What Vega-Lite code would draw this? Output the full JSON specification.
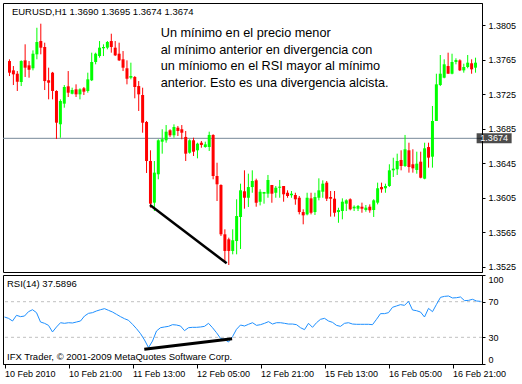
{
"$schema": "https://vega.github.io/schema/vega-lite/v6.json",
"padding": {"left": 2, "top": 2, "right": 0, "bottom": 0},
"background": "white",
"bounds": "flush",
"spacing": 3,
"config": {
  "font": "Liberation Sans",
  "view": {"stroke": "black", "strokeWidth": 1},
  "axis": {"grid": false, "domainColor": "black", "tickColor": "black", "labelColor": "black", "labelFont": "Liberation Sans", "labelFontSize": 9, "domainWidth": 1, "tickWidth": 1, "labelOverlap": false}
},
"datasets": {
"bars": [
{"i":0,"o":1.37636,"h":1.37656,"l":1.37462,"c":1.37501,"r":52.8},
{"i":1,"o":1.37528,"h":1.37578,"l":1.37358,"c":1.37482,"r":51.3},
{"i":2,"o":1.37489,"h":1.37520,"l":1.37289,"c":1.37396,"r":48.3},
{"i":3,"o":1.37393,"h":1.37644,"l":1.37346,"c":1.37636,"r":54.7},
{"i":4,"o":1.37644,"h":1.37830,"l":1.37451,"c":1.37559,"r":53.2},
{"i":5,"o":1.37586,"h":1.37636,"l":1.37443,"c":1.37535,"r":53.9},
{"i":6,"o":1.37552,"h":1.37760,"l":1.37528,"c":1.37721,"r":58.8},
{"i":7,"o":1.37714,"h":1.38022,"l":1.37656,"c":1.37857,"r":61.0},
{"i":8,"o":1.37868,"h":1.38069,"l":1.37714,"c":1.37791,"r":57.7},
{"i":9,"o":1.37799,"h":1.37849,"l":1.37300,"c":1.37404,"r":47.2},
{"i":10,"o":1.37413,"h":1.37559,"l":1.37192,"c":1.37385,"r":45.7},
{"i":11,"o":1.37501,"h":1.37510,"l":1.37192,"c":1.37289,"r":43.4},
{"i":12,"o":1.37289,"h":1.37297,"l":1.36732,"c":1.36921,"r":36.0},
{"i":13,"o":1.36903,"h":1.37192,"l":1.36747,"c":1.37173,"r":41.6},
{"i":14,"o":1.37142,"h":1.37358,"l":1.37095,"c":1.37335,"r":46.4},
{"i":15,"o":1.37343,"h":1.37520,"l":1.37219,"c":1.37269,"r":45.7},
{"i":16,"o":1.37257,"h":1.37327,"l":1.37250,"c":1.37300,"r":46.4},
{"i":17,"o":1.37308,"h":1.37366,"l":1.37219,"c":1.37250,"r":46.1},
{"i":18,"o":1.37250,"h":1.37320,"l":1.37192,"c":1.37308,"r":47.2},
{"i":19,"o":1.37320,"h":1.37335,"l":1.37242,"c":1.37281,"r":48.3},
{"i":20,"o":1.37289,"h":1.37501,"l":1.37269,"c":1.37424,"r":53.9},
{"i":21,"o":1.37413,"h":1.37733,"l":1.37404,"c":1.37625,"r":56.9},
{"i":22,"o":1.37625,"h":1.37733,"l":1.37598,"c":1.37721,"r":57.7},
{"i":23,"o":1.37694,"h":1.37868,"l":1.37675,"c":1.37791,"r":59.6},
{"i":24,"o":1.37784,"h":1.37830,"l":1.37694,"c":1.37799,"r":61.0},
{"i":25,"o":1.37791,"h":1.37868,"l":1.37772,"c":1.37857,"r":62.2},
{"i":26,"o":1.37868,"h":1.37953,"l":1.37733,"c":1.37799,"r":60.3},
{"i":27,"o":1.37791,"h":1.37868,"l":1.37694,"c":1.37702,"r":58.4},
{"i":28,"o":1.37721,"h":1.37849,"l":1.37636,"c":1.37644,"r":55.8},
{"i":29,"o":1.37656,"h":1.37752,"l":1.37520,"c":1.37559,"r":53.2},
{"i":30,"o":1.37552,"h":1.37644,"l":1.37366,"c":1.37431,"r":50.9},
{"i":31,"o":1.37443,"h":1.37617,"l":1.37424,"c":1.37462,"r":49.1},
{"i":32,"o":1.37451,"h":1.37462,"l":1.37204,"c":1.37335,"r":44.6},
{"i":33,"o":1.37346,"h":1.37404,"l":1.37057,"c":1.37250,"r":39.7},
{"i":34,"o":1.37242,"h":1.37327,"l":1.36805,"c":1.36921,"r":34.1},
{"i":35,"o":1.36929,"h":1.36941,"l":1.36338,"c":1.36477,"r":27.0},
{"i":36,"o":1.36477,"h":1.36601,"l":1.35936,"c":1.35982,"r":18.4},
{"i":37,"o":1.35994,"h":1.36477,"l":1.35897,"c":1.36342,"r":25.8},
{"i":38,"o":1.36323,"h":1.36729,"l":1.36265,"c":1.36717,"r":37.1},
{"i":39,"o":1.36701,"h":1.36845,"l":1.36562,"c":1.36729,"r":40.8},
{"i":40,"o":1.36717,"h":1.36894,"l":1.36689,"c":1.36817,"r":41.6},
{"i":41,"o":1.36833,"h":1.36845,"l":1.36756,"c":1.36775,"r":42.3},
{"i":42,"o":1.36775,"h":1.36902,"l":1.36747,"c":1.36871,"r":44.2},
{"i":43,"o":1.36863,"h":1.36883,"l":1.36767,"c":1.36825,"r":43.8},
{"i":44,"o":1.36845,"h":1.36894,"l":1.36729,"c":1.36805,"r":42.7},
{"i":45,"o":1.36756,"h":1.36825,"l":1.36477,"c":1.36562,"r":37.5},
{"i":46,"o":1.36573,"h":1.36729,"l":1.36562,"c":1.36717,"r":40.8},
{"i":47,"o":1.36717,"h":1.36747,"l":1.36535,"c":1.36585,"r":41.2},
{"i":48,"o":1.36601,"h":1.36689,"l":1.36508,"c":1.36678,"r":41.2},
{"i":49,"o":1.36689,"h":1.36709,"l":1.36631,"c":1.36663,"r":41.6},
{"i":50,"o":1.36639,"h":1.36701,"l":1.36631,"c":1.36670,"r":42.3},
{"i":51,"o":1.36639,"h":1.36817,"l":1.36593,"c":1.36779,"r":45.7},
{"i":52,"o":1.36779,"h":1.36787,"l":1.36265,"c":1.36303,"r":40.8},
{"i":53,"o":1.36303,"h":1.36457,"l":1.36013,"c":1.36207,"r":35.2},
{"i":54,"o":1.36199,"h":1.36207,"l":1.35607,"c":1.35627,"r":28.8},
{"i":55,"o":1.35627,"h":1.35685,"l":1.35294,"c":1.35434,"r":27.7},
{"i":56,"o":1.35569,"h":1.35588,"l":1.35271,"c":1.35434,"r":24.7},
{"i":57,"o":1.35434,"h":1.35685,"l":1.35395,"c":1.35558,"r":30.7},
{"i":58,"o":1.35549,"h":1.36033,"l":1.35395,"c":1.35839,"r":39.0},
{"i":59,"o":1.35828,"h":1.36214,"l":1.35457,"c":1.36137,"r":43.8},
{"i":60,"o":1.36126,"h":1.36369,"l":1.35924,"c":1.36051,"r":42.7},
{"i":61,"o":1.36051,"h":1.36330,"l":1.35944,"c":1.36175,"r":44.6},
{"i":62,"o":1.36175,"h":1.36369,"l":1.36109,"c":1.36245,"r":46.4},
{"i":63,"o":1.36253,"h":1.36272,"l":1.35947,"c":1.35993,"r":43.4},
{"i":64,"o":1.36005,"h":1.36149,"l":1.35962,"c":1.36121,"r":44.2},
{"i":65,"o":1.36098,"h":1.36118,"l":1.35982,"c":1.36118,"r":45.7},
{"i":66,"o":1.36098,"h":1.36315,"l":1.36051,"c":1.36257,"r":47.6},
{"i":67,"o":1.36199,"h":1.36199,"l":1.35993,"c":1.36098,"r":44.9},
{"i":68,"o":1.36109,"h":1.36187,"l":1.36051,"c":1.36167,"r":46.4},
{"i":69,"o":1.36167,"h":1.36257,"l":1.36051,"c":1.36179,"r":46.4},
{"i":70,"o":1.36187,"h":1.36187,"l":1.36005,"c":1.36091,"r":45.7},
{"i":71,"o":1.36109,"h":1.36137,"l":1.36051,"c":1.36071,"r":44.9},
{"i":72,"o":1.36080,"h":1.36129,"l":1.36051,"c":1.36098,"r":44.9},
{"i":73,"o":1.36083,"h":1.36109,"l":1.35970,"c":1.36033,"r":44.2},
{"i":74,"o":1.36051,"h":1.36071,"l":1.35858,"c":1.35885,"r":40.8},
{"i":75,"o":1.35885,"h":1.35917,"l":1.35743,"c":1.35847,"r":38.6},
{"i":76,"o":1.35858,"h":1.36109,"l":1.35847,"c":1.36051,"r":45.7},
{"i":77,"o":1.36044,"h":1.36109,"l":1.35858,"c":1.35877,"r":41.2},
{"i":78,"o":1.35885,"h":1.36109,"l":1.35851,"c":1.36059,"r":46.4},
{"i":79,"o":1.36051,"h":1.36276,"l":1.36021,"c":1.36137,"r":50.2},
{"i":80,"o":1.36121,"h":1.36253,"l":1.36051,"c":1.36214,"r":51.3},
{"i":81,"o":1.36226,"h":1.36245,"l":1.36013,"c":1.36040,"r":48.3},
{"i":82,"o":1.36059,"h":1.36129,"l":1.35832,"c":1.36040,"r":46.8},
{"i":83,"o":1.36040,"h":1.36129,"l":1.35832,"c":1.35877,"r":43.4},
{"i":84,"o":1.35885,"h":1.35935,"l":1.35761,"c":1.35908,"r":42.3},
{"i":85,"o":1.35897,"h":1.36044,"l":1.35801,"c":1.36005,"r":45.7},
{"i":86,"o":1.35982,"h":1.36033,"l":1.35897,"c":1.36021,"r":46.4},
{"i":87,"o":1.36033,"h":1.36044,"l":1.35905,"c":1.35917,"r":44.9},
{"i":88,"o":1.35928,"h":1.35963,"l":1.35897,"c":1.35947,"r":44.6},
{"i":89,"o":1.35924,"h":1.35967,"l":1.35897,"c":1.35955,"r":44.6},
{"i":90,"o":1.35947,"h":1.35994,"l":1.35877,"c":1.35924,"r":44.6},
{"i":91,"o":1.35909,"h":1.35967,"l":1.35889,"c":1.35936,"r":44.6},
{"i":92,"o":1.35947,"h":1.35974,"l":1.35877,"c":1.35905,"r":44.2},
{"i":93,"o":1.35909,"h":1.36033,"l":1.35828,"c":1.36021,"r":50.2},
{"i":94,"o":1.35994,"h":1.36226,"l":1.35974,"c":1.36161,"r":56.6},
{"i":95,"o":1.36176,"h":1.36226,"l":1.36109,"c":1.36149,"r":56.6},
{"i":96,"o":1.36161,"h":1.36214,"l":1.36109,"c":1.36187,"r":57.7},
{"i":97,"o":1.36187,"h":1.36439,"l":1.36176,"c":1.36369,"r":63.7},
{"i":98,"o":1.36369,"h":1.36515,"l":1.36292,"c":1.36388,"r":65.2},
{"i":99,"o":1.36381,"h":1.36562,"l":1.36315,"c":1.36477,"r":66.7},
{"i":100,"o":1.36489,"h":1.36601,"l":1.36369,"c":1.36419,"r":65.9},
{"i":101,"o":1.36419,"h":1.36779,"l":1.36407,"c":1.36613,"r":70.4},
{"i":102,"o":1.36601,"h":1.36689,"l":1.36342,"c":1.36407,"r":60.7},
{"i":103,"o":1.36439,"h":1.36613,"l":1.36342,"c":1.36392,"r":59.9},
{"i":104,"o":1.36373,"h":1.36585,"l":1.36330,"c":1.36446,"r":58.4},
{"i":105,"o":1.36469,"h":1.36585,"l":1.36276,"c":1.36283,"r":52.8},
{"i":106,"o":1.36272,"h":1.36689,"l":1.36265,"c":1.36624,"r":62.5},
{"i":107,"o":1.36639,"h":1.36689,"l":1.36400,"c":1.36516,"r":58.8},
{"i":108,"o":1.36527,"h":1.37115,"l":1.36400,"c":1.36941,"r":67.0},
{"i":109,"o":1.36941,"h":1.37489,"l":1.36941,"c":1.37366,"r":74.9},
{"i":110,"o":1.37358,"h":1.37706,"l":1.37346,"c":1.37489,"r":76.0},
{"i":111,"o":1.37443,"h":1.37656,"l":1.37436,"c":1.37598,"r":76.4},
{"i":112,"o":1.37578,"h":1.37733,"l":1.37489,"c":1.37489,"r":74.2},
{"i":113,"o":1.37489,"h":1.37721,"l":1.37482,"c":1.37625,"r":74.5},
{"i":114,"o":1.37625,"h":1.37668,"l":1.37598,"c":1.37648,"r":75.3},
{"i":115,"o":1.37644,"h":1.37656,"l":1.37520,"c":1.37528,"r":71.2},
{"i":116,"o":1.37528,"h":1.37605,"l":1.37501,"c":1.37567,"r":71.5},
{"i":117,"o":1.37567,"h":1.37706,"l":1.37552,"c":1.37617,"r":72.7},
{"i":118,"o":1.37610,"h":1.37656,"l":1.37489,"c":1.37540,"r":70.8},
{"i":119,"o":1.37559,"h":1.37675,"l":1.37501,"c":1.37617,"r":70.4}
],
"bid": [{"p": 1.3674, "t": "1.3674"}],
"ptrend": [{"i": 35.875, "p": 1.35967}, {"i": 55.45, "p": 1.35291}],
"ptext": [{"i": 0.625, "p": 1.3821, "t": "EURUSD,H1  1.3690 1.3695 1.3674 1.3674"}],
"note": [{"i": 38.625, "p": 1.37915, "t": "Un mínimo en el precio menor\nal mínimo anterior en divergencia con\n\u00a0un míniomo en el RSI mayor al mínimo\nanterior. Esto es una divergencia alcista."}],
"levels": [{"lv": 30}, {"lv": 70}],
"rtrend": [{"i": 34.95, "r": 16.5}, {"i": 56.9, "r": 28.4}],
"rtext": [{"i": 0.625, "r": 89.9, "t": "RSI(14) 37.5896"}, {"i": 0.625, "r": 7.5, "t": "IFX Trader, © 2001-2009 MetaQuotes Software Corp."}]
},
"vconcat": [
{
  "width": 479,
  "height": 269,
  "encoding": {
    "x": {"type": "quantitative", "scale": {"domain": [-0.375, 119.375], "nice": false, "zero": false}, "axis": null},
    "y": {"type": "quantitative", "scale": {"domain": [1.3519, 1.38309], "nice": false, "zero": false},
      "axis": {"orient": "right", "title": null, "values": [1.3525, 1.3565, 1.3605, 1.3645, 1.3685, 1.3725, 1.3765, 1.3805], "format": ".4f", "labelOverlap": false, "labelFlush": false, "tickSize": 3, "labelPadding": 3}}
  },
  "layer": [
    {
      "data": {"name": "bid"},
      "mark": {"type": "rule", "color": "#778899", "strokeWidth": 1},
      "encoding": {"y": {"field": "p"}, "x": null}
    },
    {
      "data": {"name": "bars"},
      "mark": {"type": "rule", "strokeWidth": 1},
      "encoding": {
        "x": {"field": "i"},
        "y": {"field": "l"},
        "y2": {"field": "h"},
        "color": {"condition": {"test": "datum.c >= datum.o", "value": "#00ff00"}, "value": "#ff0000"}
      }
    },
    {
      "data": {"name": "bars"},
      "mark": {"type": "bar", "size": 3},
      "encoding": {
        "x": {"field": "i"},
        "y": {"field": "o"},
        "y2": {"field": "c"},
        "color": {"condition": {"test": "datum.c >= datum.o", "value": "#00ff00"}, "value": "#ff0000"}
      }
    },
    {
      "data": {"name": "ptrend"},
      "mark": {"type": "line", "color": "black", "strokeWidth": 2.5},
      "encoding": {"x": {"field": "i"}, "y": {"field": "p"}}
    },
    {
      "data": {"name": "ptext"},
      "mark": {"type": "text", "align": "left", "baseline": "middle", "fontSize": 9.5, "color": "black"},
      "encoding": {"x": {"field": "i"}, "y": {"field": "p"}, "text": {"field": "t"}}
    },
    {
      "data": {"name": "note"},
      "mark": {"type": "text", "align": "left", "baseline": "alphabetic", "fontSize": 12.7, "lineHeight": 16.7, "lineBreak": "\n", "color": "black"},
      "encoding": {"x": {"field": "i"}, "y": {"field": "p"}, "text": {"field": "t"}}
    },
    {
      "data": {"name": "bid"},
      "mark": {"type": "tick", "orient": "horizontal", "size": 35, "thickness": 10, "color": "black", "clip": false},
      "encoding": {"x": {"datum": 123.75}, "y": {"field": "p"}}
    },
    {
      "data": {"name": "bid"},
      "mark": {"type": "text", "align": "center", "baseline": "middle", "fontSize": 9, "color": "white", "clip": false},
      "encoding": {"x": {"datum": 123.75}, "y": {"field": "p"}, "text": {"field": "t"}}
    }
  ]
},
{
  "width": 479,
  "height": 89,
  "encoding": {
    "x": {"type": "quantitative", "scale": {"domain": [-0.375, 119.375], "nice": false, "zero": false},
      "axis": {"title": null, "values": [0, 16, 32, 48, 64, 80, 96, 112], "labelExpr": "['10 Feb 2010','10 Feb 21:00','11 Feb 13:00','12 Feb 05:00','12 Feb 21:00','15 Feb 13:00','16 Feb 05:00','16 Feb 21:00'][round(datum.value/16)]", "labelAlign": "left", "labelBaseline": "top", "labelFlush": false, "labelOverlap": false, "tickSize": 4, "labelPadding": 1}},
    "y": {"type": "quantitative", "scale": {"domain": [0, 100], "nice": false},
      "axis": {"orient": "right", "title": null, "values": [0, 30, 70, 100], "labelFlush": true, "labelOverlap": false, "tickSize": 3, "labelPadding": 3}}
  },
  "layer": [
    {
      "data": {"name": "levels"},
      "mark": {"type": "rule", "color": "#c0c0c0", "strokeDash": [3, 3], "strokeWidth": 1},
      "encoding": {"y": {"field": "lv"}, "x": null}
    },
    {
      "data": {"name": "bars"},
      "mark": {"type": "line", "color": "#1e90ff", "strokeWidth": 1},
      "encoding": {"x": {"field": "i"}, "y": {"field": "r"}}
    },
    {
      "data": {"name": "rtrend"},
      "mark": {"type": "line", "color": "black", "strokeWidth": 3},
      "encoding": {"x": {"field": "i"}, "y": {"field": "r"}}
    },
    {
      "data": {"name": "rtext"},
      "mark": {"type": "text", "align": "left", "baseline": "middle", "fontSize": 9.5, "color": "black"},
      "encoding": {"x": {"field": "i"}, "y": {"field": "r"}, "text": {"field": "t"}}
    }
  ]
}
]
}
